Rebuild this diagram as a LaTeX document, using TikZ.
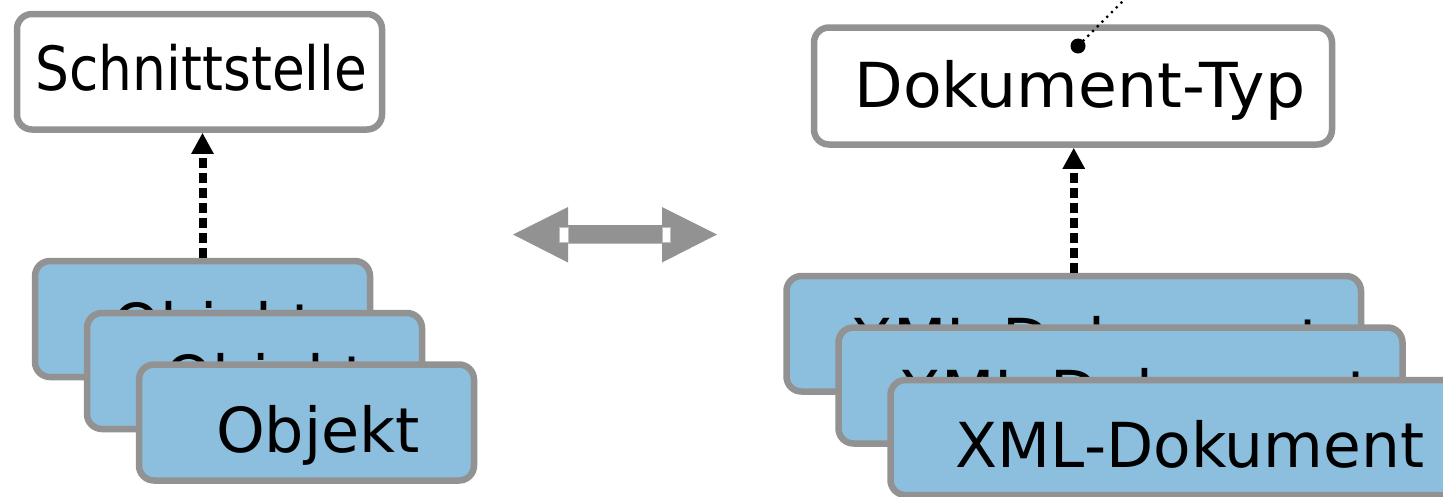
\documentclass[tikz,border=0pt]{standalone}
\usepackage{fontspec}
\usepackage{graphicx}
\setmainfont{DejaVu Sans}
\usetikzlibrary{arrows.meta}
\definecolor{boxgray}{HTML}{929292}
\definecolor{boxblue}{HTML}{8CBEDE}
\begin{document}
\begin{tikzpicture}[x=1pt,y=-1pt,
  card/.style={draw=boxgray, line width=6.5pt, rounded corners=15pt, fill=boxblue, inner sep=0pt},
  plainbox/.style={card, fill=white},
  lbl/.style={inner sep=0pt, anchor=base, font=\fontsize{62}{70}\selectfont},
  dotarrow/.style={line width=8pt, dash pattern=on 10pt off 5pt, -{Triangle[width=21pt,length=21pt]}},
  thindots/.style={line width=2.2pt, dash pattern=on 2.2pt off 4.5pt}
]
\path[use as bounding box] (0,0) rectangle (1443,496);
\clip (0,0) rectangle (1443,496);
\fill[white] (0,0) rectangle (1443,496);

% left: interface
\node[plainbox, minimum width=365pt, minimum height=115.5pt] (schnitt) at (199.5,71.75) {};
\node[lbl, font=\fontsize{61}{70}\selectfont] (schnitttxt) at (201.5,90) {\scalebox{0.875}[1]{Schnittstelle}};

\node[card, minimum width=335pt, minimum height=116pt] (o1) at (202.5,319) {};
\node[lbl] (o1txt) at (214,348.5) {Objekt};
\node[card, minimum width=335pt, minimum height=116pt] (o2) at (254.5,371) {};
\node[lbl] (o2txt) at (266,400.5) {Objekt};
\node[card, minimum width=335pt, minimum height=116pt] (o3) at (306.5,422.5) {};
\node[lbl] (o3txt) at (318,452) {Objekt};

\draw[dotarrow] (o1.north) -- (o1.north |- schnitt.south);

% middle double arrow
\fill[boxgray] (513,234.5) -- (568,207) -- (568,225) -- (662,225) -- (662,207) -- (717,234.5)
  -- (662,262.5) -- (662,243.5) -- (568,243.5) -- (568,262.5) -- cycle;
\filldraw[fill=white, draw=boxgray!60, line width=0.8pt] (559.5,227) rectangle (568,242.5);
\filldraw[fill=white, draw=boxgray!60, line width=0.8pt] (662,227) rectangle (670.5,242.5);

% right: document type
\node[plainbox, minimum width=518pt, minimum height=117pt] (dtyp) at (1073,86) {};
\node[lbl] (dtyptxt) at (1080,107) {\scalebox{1.02}[1]{Dokument-Typ}};
\coordinate (dtdot) at (1078,46);
\coordinate (dtfar) at (1130,-6);
\draw[thindots] (dtdot) -- (dtfar);
\fill (dtdot) circle (7.5pt);

\node[card, minimum width=574.5pt, minimum height=115.5pt] (x1) at (1073.75,333.75) {};
\node[lbl] (x1txt) at (1087,363) {XML-Dokument};
\node[card, minimum width=564pt, minimum height=116pt] (x2) at (1120.5,385.5) {};
\node[lbl] (x2txt) at (1135,415) {XML-Dokument};
\node[card, minimum width=574.5pt, minimum height=115pt] (x3) at (1177.75,437.5) {};
\node[lbl] (x3txt) at (1190,467) {\scalebox{0.99}[1]{XML-Dokument}};

\draw[dotarrow] (x1.north) -- (x1.north |- dtyp.south);
\end{tikzpicture}
\end{document}
